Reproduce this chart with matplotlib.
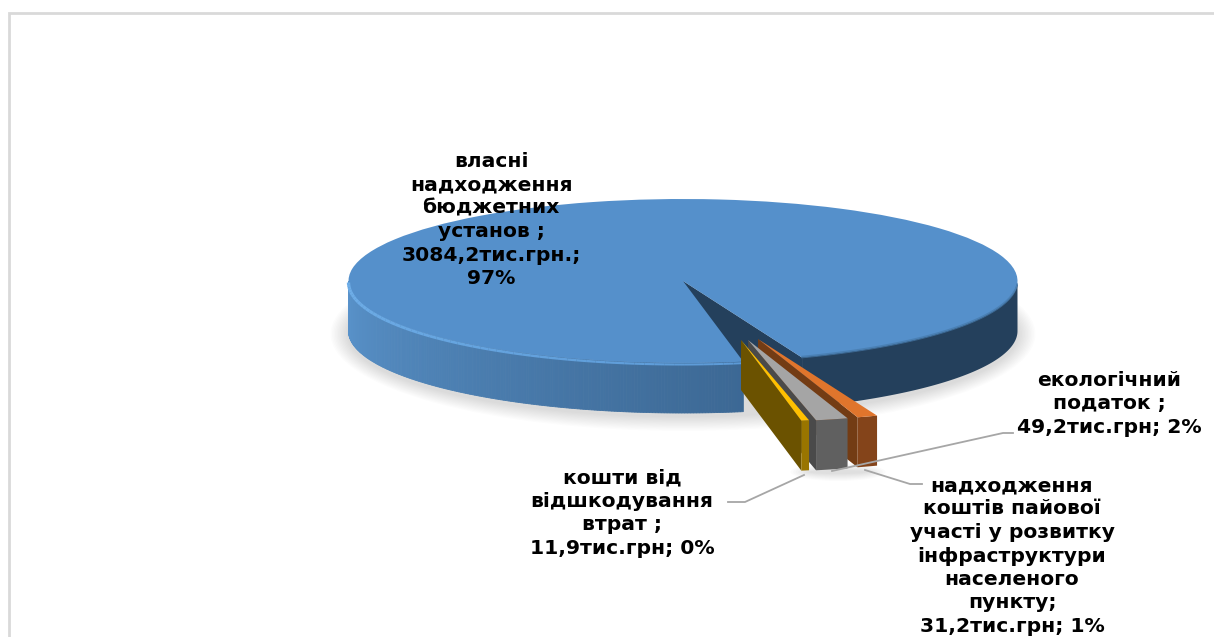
import numpy as np
import matplotlib
matplotlib.use('Agg')
import matplotlib.pyplot as plt
from matplotlib.patches import Ellipse, Polygon
from matplotlib.colors import to_rgb

# values, thousand UAH
values = [3084.2, 11.9, 49.2, 31.2]
labels = ['власні\nнадходження\nбюджетних\nустанов ;\n3084,2тис.грн.;\n97%',
          'кошти від\nвідшкодування\nвтрат ;\n11,9тис.грн; 0%',
          'екологічний\nподаток ;\n49,2тис.грн; 2%',
          'надходження\nкоштів пайової\nучасті у розвитку\nінфраструктури\nнаселеного\nпункту;\n31,2тис.грн; 1%']
top_colors = ['#5590CB', '#FFC000', '#A5A5A5', '#E0752C']
wall_colors = ['#24405C', '#6B5200', '#4A4A4A', '#733C14']
face_colors = ['#24405C', '#997500', '#606060', '#84441A']

W, H = 1214, 637
cx, cy = 683, 281
rx, ry = 334.5, 82
depth = 50 / ry
start_angle = -69.15
slice_shift = [(0, 0), (58, 59), (65, 59), (75, 58)]

fig = plt.figure(figsize=(W / 100, H / 100), dpi=100)
ax = fig.add_axes([0, 0, 1, 1])

wedges, _ = ax.pie(values, colors=top_colors, startangle=start_angle, radius=1,
                   wedgeprops={'linewidth': 0})
ax.set_aspect('auto')
ax.set_xlim((0 - cx) / rx, (W - cx) / rx)
ax.set_ylim((cy - H) / ry, cy / ry)
ax.axis('off')


def arc(theta1, theta2, n=2):
    t = np.radians(np.linspace(theta1, theta2, n))
    return np.cos(t), np.sin(t)


def mix(c1, c2, f):
    return tuple(np.array(to_rgb(c1)) * (1 - f) + np.array(to_rgb(c2)) * f)


# soft shadow under the disc
for i in range(12):
    ax.add_patch(Ellipse((0, -depth - 3 / ry), 2 + (36 - 3 * i) / rx, 2 + (30 - 2.5 * i) / ry,
                         color='black', alpha=0.012, lw=0, zorder=1))
for i in range(8):
    ax.add_patch(Ellipse(((838 - cx) / rx, (cy - 472) / ry), (95 - 5 * i) / rx, (18 - 2 * i) / ry,
                         color='black', alpha=0.015, lw=0, zorder=1))

main = wedges[0]
t1 = np.radians(main.theta1)

# wall seen through the gap, along the right edge of the cut
ax.add_patch(Polygon([(0, 0), (np.cos(t1), np.sin(t1)), (np.cos(t1), np.sin(t1) - depth), (0, -depth)],
                     color=wall_colors[0], lw=0, zorder=2))

# outer wall of the big slice, left part in small pieces for the gradient
left_end = main.theta2 - 360
steps = np.linspace(-180, left_end, 200)
for s1, s2 in zip(steps[:-1], steps[1:]):
    x, y = arc(s1, s2)
    pts = list(zip(x, y)) + list(zip(x[::-1], y[::-1] - depth))
    col = mix('#5A94CC', '#3C6894', (s1 + 180) / (left_end + 180))
    ax.add_patch(Polygon(pts, color=col, lw=0.6, zorder=3))

# right part is flat dark
x, y = arc(main.theta1, 0, 80)
pts = list(zip(x, y)) + list(zip(x[::-1], y[::-1] - depth))
ax.add_patch(Polygon(pts, color=wall_colors[0], lw=0, zorder=2.5))
main.set_zorder(4)

# highlight on the rim, fades towards the cut
steps = np.linspace(-180, left_end, 60)
for s1, s2 in zip(steps[:-1], steps[1:]):
    x, y = arc(s1, s2)
    f = (s1 + 180) / (left_end + 180)
    ax.plot(x, y - 1.5 / ry, color=mix('#6FAEE8', '#5C9AD6', f), lw=2.4 - f,
            zorder=5, solid_capstyle='butt')

# soft dark edge on the right side of the top
for off, col in [(0, '#3A6690'), (1.2 / ry, '#4A80B4')]:
    x, y = arc(main.theta1, -3, 60)
    ax.plot(x, y + off, color=col, lw=1, zorder=5)

# exploded small slices, left one is nearest so it goes last
for i in [3, 2, 1]:
    w = wedges[i]
    sx, sy = slice_shift[i][0] / rx, -slice_shift[i][1] / ry
    w.set_center((sx, sy))
    base = 6 + (3 - i)
    w.set_zorder(base + 0.2)
    tx, ty = arc(w.theta2, w.theta1)
    ax.add_patch(Polygon([(sx, sy), (sx + tx[1], sy + ty[1]),
                          (sx + tx[1], sy + ty[1] - depth), (sx, sy - depth)],
                         color=wall_colors[i], lw=0, zorder=base))
    x, y = arc(w.theta1, w.theta2, 10)
    pts = list(zip(x + sx, y + sy)) + list(zip(x[::-1] + sx, y[::-1] + sy - depth))
    ax.add_patch(Polygon(pts, color=face_colors[i], lw=0, zorder=base + 0.1))

# overlay in pixels for border, leader lines and labels
ov = fig.add_axes([0, 0, 1, 1], zorder=5)
ov.set_xlim(0, W)
ov.set_ylim(H, 0)
ov.axis('off')
ov.patch.set_alpha(0)

ov.plot([8.5, 8.5, W], [H, 12.5, 12.5], color='#D9D9D9', lw=2, solid_joinstyle='miter')

line_color = '#A6A6A6'
ov.plot([832, 1003, 1013], [471, 433, 433], color=line_color, lw=1.3)
ov.plot([865, 910, 922], [470, 484, 484], color=line_color, lw=1.3)
ov.plot([804, 745, 728], [475, 502, 502], color=line_color, lw=1.3)

label_pos = [(491, 220), (622, 513), (1109, 404), (1012, 556)]
for text, (lx, ly) in zip(labels, label_pos):
    ov.text(lx, ly, text, ha='center', va='center', fontsize=14.6, fontweight='bold',
            color='#000000', linespacing=1.3, family='DejaVu Sans')

fig.savefig('out.png', dpi=100)
